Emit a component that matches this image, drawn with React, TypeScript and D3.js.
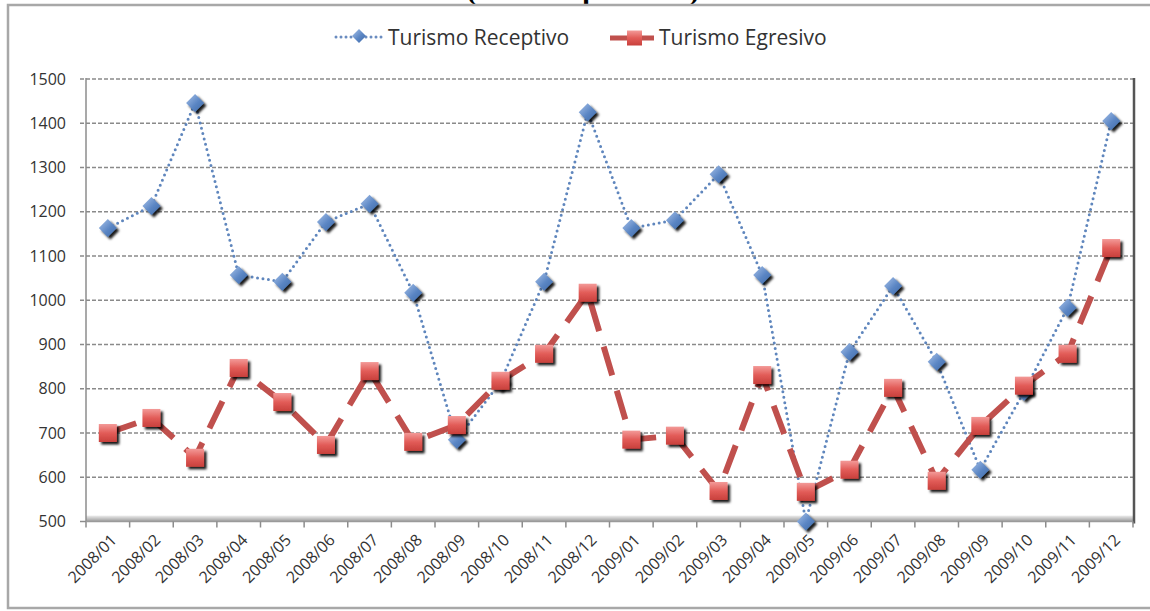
import React from "react";
import * as d3 from "d3";

const categories = [
  "2008/01", "2008/02", "2008/03", "2008/04", "2008/05", "2008/06",
  "2008/07", "2008/08", "2008/09", "2008/10", "2008/11", "2008/12",
  "2009/01", "2009/02", "2009/03", "2009/04", "2009/05", "2009/06",
  "2009/07", "2009/08", "2009/09", "2009/10", "2009/11", "2009/12",
];
const receptivo = [
  1163, 1213, 1446, 1057, 1042, 1177, 1218, 1017, 685, 815, 1042, 1425,
  1163, 1181, 1285, 1057, 500, 883, 1032, 861, 617, 793, 983, 1405,
];
const egresivo = [
  700, 734, 644, 847, 770, 673, 840, 680, 718, 818, 879, 1017,
  685, 694, 569, 831, 567, 617, 802, 592, 716, 807, 879, 1118,
];
const yTicks = [500, 600, 700, 800, 900, 1000, 1100, 1200, 1300, 1400, 1500];
const seriesNames = ["Turismo Receptivo", "Turismo Egresivo"];
const titleText = "(miles de personas)";

const W = 1150;
const H = 611;
const FONT = "'Open Sans', 'DejaVu Sans', sans-serif";

export default function App() {
  const left = 86;
  const right = 1133;
  const top = 79;
  const bottom = 521.5;

  const x = d3.scaleBand<string>().domain(categories).range([left, right]).padding(0);
  const y = d3.scaleLinear().domain([500, 1500]).range([bottom, top]);
  const cx = (c: string) => (x(c) as number) + x.bandwidth() / 2;

  const line = d3
    .line<number>()
    .x((_, i) => cx(categories[i]))
    .y((d) => y(d));

  const diamond = (r: number) => `M0,${-r} L${r},0 L0,${r} L${-r},0 Z`;

  return (
    <div style={{ position: "absolute", left: 0, top: 0 }}>
      <svg width={W} height={H} style={{ display: "block", background: "#fff" }}>
        <defs>
          <linearGradient id="gBlue" x1="0" y1="0" x2="1" y2="1">
            <stop offset="0%" stopColor="#a9c3ea" />
            <stop offset="55%" stopColor="#5b86c4" />
            <stop offset="100%" stopColor="#3e6aa8" />
          </linearGradient>
          <linearGradient id="gRed" x1="0" y1="0" x2="0" y2="1">
            <stop offset="0%" stopColor="#f39a98" />
            <stop offset="50%" stopColor="#e25c58" />
            <stop offset="100%" stopColor="#c8403c" />
          </linearGradient>
          <linearGradient id="gFloor" x1="0" y1="0" x2="0" y2="1">
            <stop offset="0%" stopColor="#eeeeee" />
            <stop offset="100%" stopColor="#9a9a9a" />
          </linearGradient>
          <filter id="shadow" x="-50%" y="-50%" width="200%" height="200%">
            <feDropShadow dx="2.5" dy="2.5" stdDeviation="0.8" floodColor="#000" floodOpacity="0.9" />
          </filter>
        </defs>

        {/* title remnant (clipped at top, as in the source) */}
        <text
          x={583}
          y={0}
          textAnchor="middle"
          fontFamily="'Liberation Serif', 'DejaVu Serif', serif"
          fontWeight="bold"
          fontSize={25}
          textLength={232}
          lengthAdjust="spacingAndGlyphs"
          fill="#000"
        >
          {titleText}
        </text>

        {/* chart frame */}
        <rect x={8} y={5} width={1170} height={603} fill="#fff" stroke="#a8a8a8" strokeWidth={2.5} />

        {/* legend */}
        <g fontFamily={FONT} fontSize={21} fill="#333">
          <line x1={336} x2={382} y1={37} y2={37} stroke="#6a8cc0" strokeWidth={3} strokeDasharray="0 5" strokeLinecap="round" />
          <path d={diamond(7)} transform="translate(359,36)" fill="url(#gBlue)" />
          <text x={388} y={45}>{seriesNames[0]}</text>
          <line x1={610} x2={656} y1={38} y2={38} stroke="#c0504d" strokeWidth={5} strokeDasharray="18 8" />
          <rect x={627} y={30.5} width={15} height={15} fill="url(#gRed)" />
          <text x={659} y={45}>{seriesNames[1]}</text>
        </g>

        {/* plot area */}
        <rect x={left} y={top} width={right - left} height={bottom - top} fill="#fff" />
        <rect x={left} y={bottom - 6} width={right - left} height={6} fill="url(#gFloor)" />

        {/* gridlines */}
        {yTicks.slice(1).map((t) => (
          <line
            key={"g" + t}
            x1={left - 6}
            x2={right}
            y1={y(t)}
            y2={y(t)}
            stroke="#8a8a8a"
            strokeWidth={1.3}
            strokeDasharray="4 2"
          />
        ))}

        {/* right border of plot */}
        <line x1={right + 1} x2={right + 1} y1={top - 1} y2={bottom + 2} stroke="#555" strokeWidth={2.5} />

        {/* y axis */}
        <line x1={left} x2={left} y1={top - 1} y2={bottom + 6} stroke="#8c8c8c" strokeWidth={1.5} />
        <line x1={left - 6} x2={left} y1={bottom} y2={bottom} stroke="#8c8c8c" strokeWidth={1.5} />
        <line x1={left} x2={right} y1={bottom} y2={bottom} stroke="#9a9a9a" strokeWidth={1.5} />
        {yTicks.map((t) => (
          <text
            key={"yl" + t}
            x={66}
            y={y(t)}
            dy="0.35em"
            textAnchor="end"
            fontFamily={FONT}
            fontSize={16}
            fill="#333"
          >
            {t}
          </text>
        ))}

        {/* x ticks and labels */}
        {categories.map((c) => (
          <line
            key={"xt" + c}
            x1={(x(c) as number) + x.bandwidth()}
            x2={(x(c) as number) + x.bandwidth()}
            y1={bottom}
            y2={bottom + 6}
            stroke="#8c8c8c"
            strokeWidth={1.5}
          />
        ))}
        {categories.map((c) => (
          <text
            key={"xl" + c}
            transform={`translate(${cx(c) + 10},${541}) rotate(-45)`}
            textAnchor="end"
            fontFamily={FONT}
            fontSize={16}
            fill="#333"
          >
            {c}
          </text>
        ))}

        {/* series lines */}
        <path d={line(receptivo) || ""} fill="none" stroke="#5f86bd" strokeWidth={3} strokeDasharray="0 5.5" strokeLinecap="round" />
        <path d={line(egresivo) || ""} fill="none" stroke="#c0504d" strokeWidth={6} strokeDasharray="30 16" />

        {/* markers */}
        {receptivo.map((v, i) => (
          <path
            key={"d" + i}
            d={diamond(9)}
            transform={`translate(${cx(categories[i])},${y(v)})`}
            fill="url(#gBlue)"
            filter="url(#shadow)"
          />
        ))}
        {egresivo.map((v, i) => (
          <rect
            key={"s" + i}
            x={cx(categories[i]) - 9}
            y={y(v) - 9}
            width={18}
            height={18}
            fill="url(#gRed)"
            filter="url(#shadow)"
          />
        ))}
      </svg>
    </div>
  );
}
